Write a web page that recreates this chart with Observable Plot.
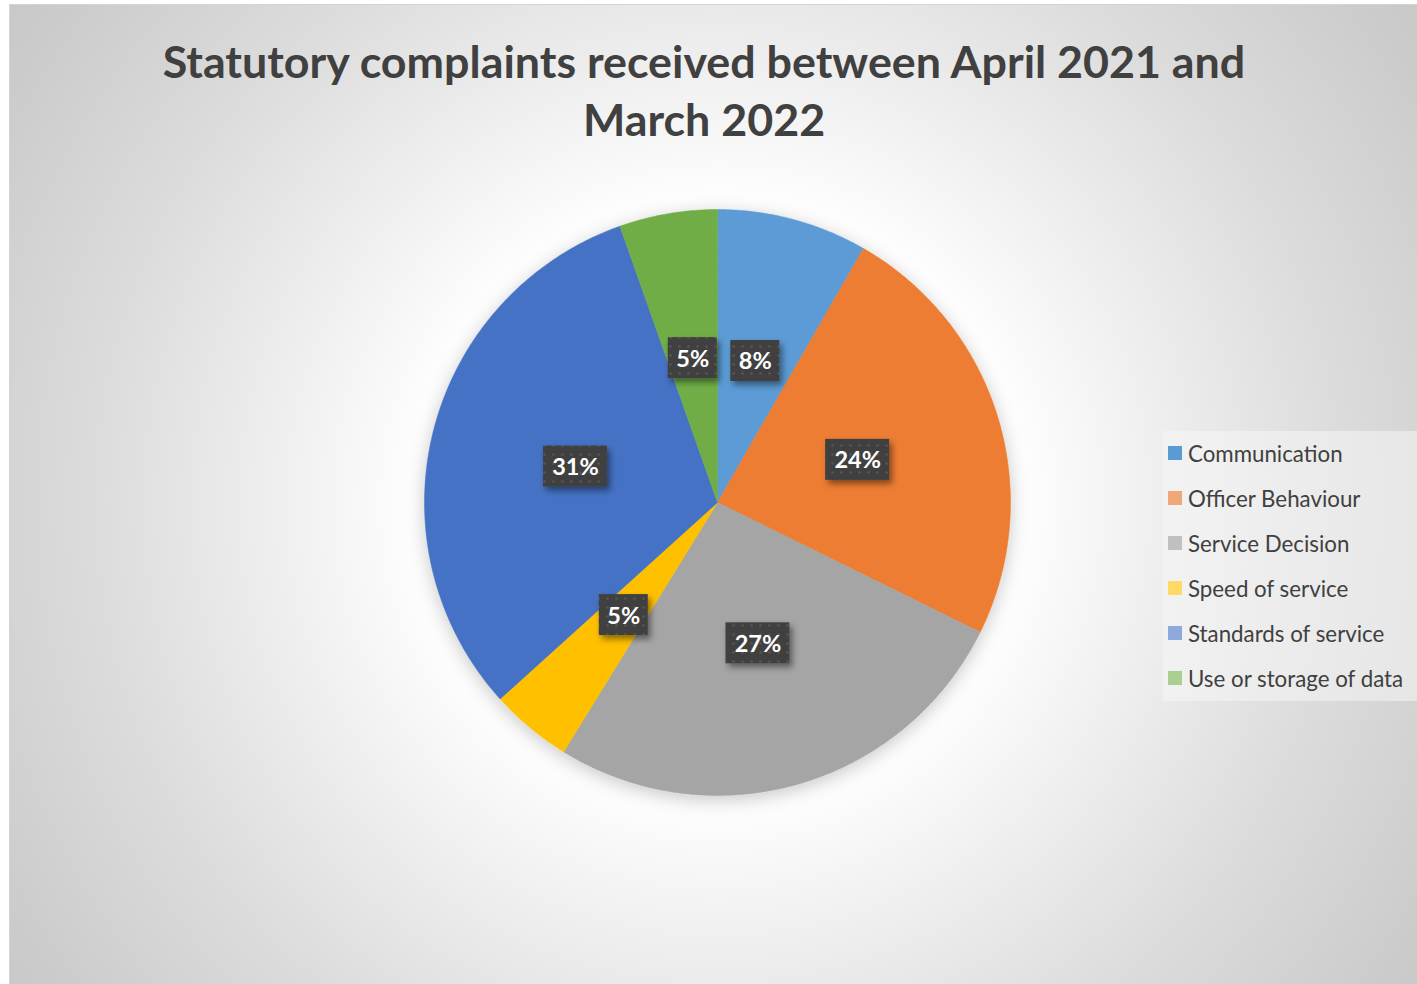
<!DOCTYPE html>
<html><head><meta charset="utf-8">
<script src="https://cdn.jsdelivr.net/npm/d3@7"></script>
<script src="https://cdn.jsdelivr.net/npm/@observablehq/plot@0.6"></script>
<style>
html,body{margin:0;padding:0;background:#fff;}
body{width:1417px;height:984px;overflow:hidden;position:relative;font-family:Lato,"Open Sans",sans-serif;}
#frame{position:absolute;left:9px;top:4px;width:1408px;height:980px;box-sizing:border-box;
  border-top:1px solid #d4d4d4;border-left:1px solid #d4d4d4;
  background:radial-gradient(circle at 708px 498px,#ffffff 0px,#ffffff 290px,#f0f0f0 430px,#dcdcdc 620px,#cbcbcb 820px,#c4c4c4 950px);}
#chart{position:absolute;left:0;top:0;}
#title{position:absolute;left:0;top:32px;width:1408px;text-align:center;font-weight:bold;font-size:44.8px;line-height:58px;color:#404040;}
#legend{position:absolute;left:1163px;top:431px;width:254px;height:270px;background:rgba(246,246,246,0.55);}
.item{position:absolute;left:5px;height:24px;display:flex;align-items:center;font-size:22.3px;color:#404040;white-space:nowrap;}
.sw{width:14px;height:14px;margin-right:6px;flex:none;}
</style></head>
<body>
<div id="frame"></div>
<div id="chart"></div>
<div id="title">Statutory complaints received between April 2021 and<br>March 2022</div>
<div id="legend"></div>
<script>
const categories = ["Communication","Officer Behaviour","Service Decision","Speed of service","Standards of service","Use or storage of data"];
const values = [8.3, 24.0, 26.5, 4.5, 31.3, 5.4];
const colors = ["#5B9BD5","#ED7D31","#A5A5A5","#FFC000","#4472C4","#70AD47"];
const legendColors = ["#5A9BD5","#F0A878","#C0C0C0","#FFD966","#8EA9DB","#A9D08E"];

const W = 1417, H = 984, CX = 717, CY = 502, R = 293;
const total = d3.sum(values);

// slices
const slices = [];
let acc = 0;
categories.forEach((c, i) => {
  const a0 = acc / total * 2 * Math.PI;
  acc += values[i];
  const a1 = acc / total * 2 * Math.PI;
  slices.push({category: c, value: values[i], a0, a1, pct: values[i] / total * 100});
});
const pts = [];
for (const s of slices) {
  pts.push({category: s.category, x: 0, y: 0});
  const n = Math.max(2, Math.ceil((s.a1 - s.a0) / (Math.PI / 360)));
  for (let k = 0; k <= n; k++) {
    const a = s.a0 + (s.a1 - s.a0) * k / n;
    pts.push({category: s.category, x: Math.sin(a), y: Math.cos(a)});
  }
}
const labels = slices.map(s => {
  const m = (s.a0 + s.a1) / 2;
  const text = Math.round(s.pct) + "%";
  const hw = (text.length > 2 ? 32 : 24.5) / R, hh = 20.5 / R;
  const lx = 0.5 * Math.sin(m), ly = 0.5 * Math.cos(m);
  return {text, lx, ly, x1: lx - hw, x2: lx + hw, y1: ly - hh, y2: ly + hh};
});

const plot = Plot.plot({
  width: W, height: H, margin: 0,
  style: {background: "transparent", overflow: "visible"},
  x: {domain: [-CX / R, (W - CX) / R], axis: null},
  y: {domain: [-(H - CY) / R, CY / R], axis: null},
  color: {domain: categories, range: colors},
  marks: [
    Plot.line(pts, {x: "x", y: "y", z: "category", fill: "category", stroke: "category", strokeWidth: 0.5, curve: "linear-closed"}),
    Plot.rect(labels, {x1: "x1", x2: "x2", y1: "y1", y2: "y2", fill: "url(#dots)"}),
    Plot.text(labels, {x: "lx", y: "ly", text: "text", fill: "white", fontSize: 23.5, fontWeight: "bold", fontFamily: "Lato", dy: 1})
  ]
});
const ns = "http://www.w3.org/2000/svg";
const defs = document.createElementNS(ns, "defs");
defs.innerHTML = `
<pattern id="dots" width="9" height="9" patternUnits="userSpaceOnUse">
  <rect width="9" height="9" fill="#404040"/>
  <circle cx="4.5" cy="4.5" r="1.2" fill="#575757"/>
</pattern>
<filter id="boxShadow" x="-30%" y="-30%" width="160%" height="170%">
  <feDropShadow dx="3" dy="4" stdDeviation="3" flood-color="#000" flood-opacity="0.45"/>
</filter>
<filter id="pieShadow" x="-20%" y="-20%" width="140%" height="140%">
  <feDropShadow dx="0" dy="4" stdDeviation="9" flood-color="#000" flood-opacity="0.22"/>
</filter>`;
plot.insertBefore(defs, plot.firstChild);
const gLine = plot.querySelector('g[aria-label="line"]');
if (gLine) gLine.setAttribute("filter", "url(#pieShadow)");
const gRect = plot.querySelector('g[aria-label="rect"]');
if (gRect) gRect.setAttribute("filter", "url(#boxShadow)");
document.getElementById("chart").appendChild(plot);

const leg = document.getElementById("legend");
categories.forEach((c, i) => {
  const it = document.createElement("div");
  it.className = "item";
  it.style.top = (10 + i * 45) + "px";
  it.innerHTML = `<span class="sw" style="background:${legendColors[i]}"></span><span>${c}</span>`;
  leg.appendChild(it);
});
</script>
</body></html>
